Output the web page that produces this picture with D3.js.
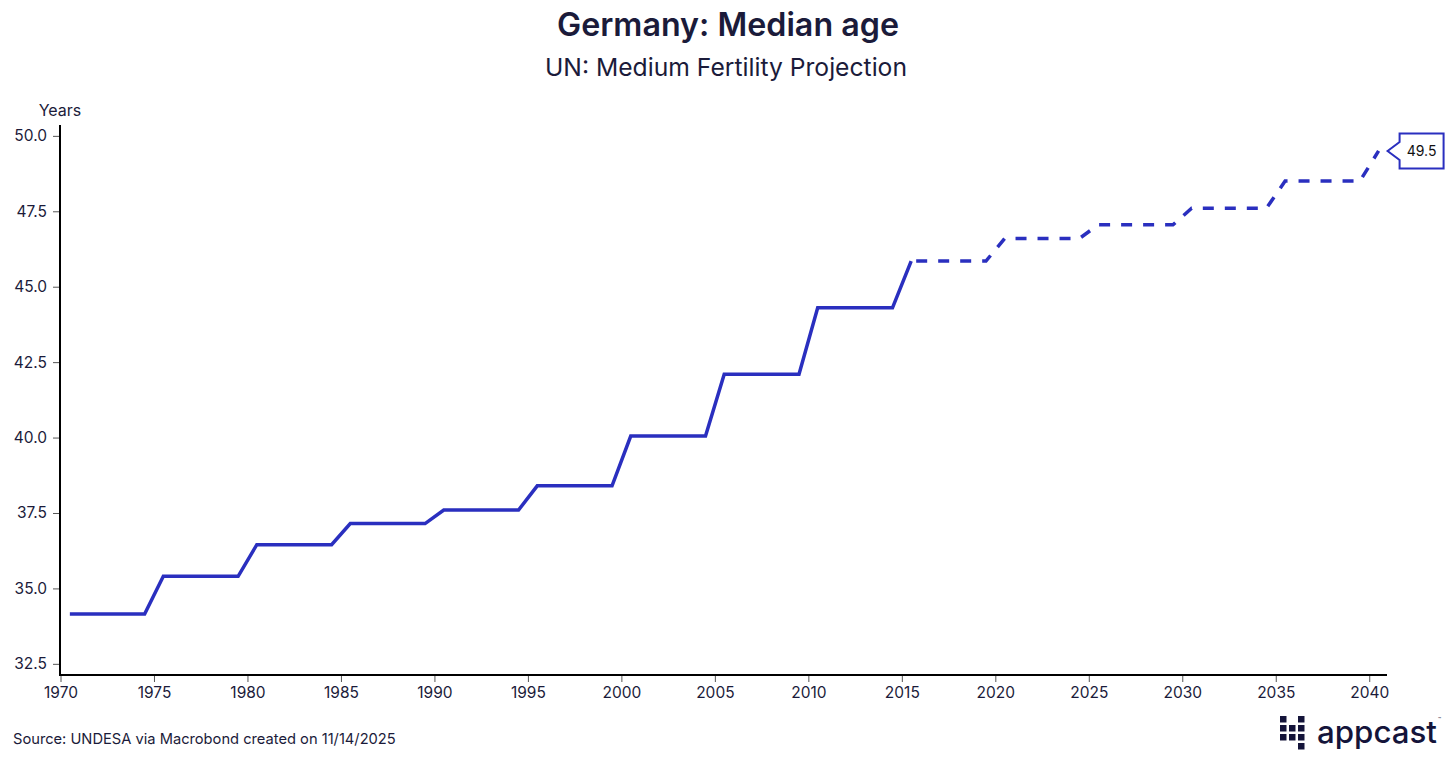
<!DOCTYPE html>
<html>
<head>
<meta charset="utf-8">
<script src="https://cdn.jsdelivr.net/npm/d3@7"></script>
<style>
  html, body { margin: 0; padding: 0; background: #fff; }
  svg { display: block; font-family: Inter, "Noto Sans", sans-serif; }
</style>
</head>
<body>
<svg id="chart" width="1456" height="761"></svg>
<script>
// ---- Data (UN WPP, median age, Germany; medium fertility projection) ----
const years = [
  1970,1971,1972,1973,1974,1975,1976,1977,1978,1979,
  1980,1981,1982,1983,1984,1985,1986,1987,1988,1989,
  1990,1991,1992,1993,1994,1995,1996,1997,1998,1999,
  2000,2001,2002,2003,2004,2005,2006,2007,2008,2009,
  2010,2011,2012,2013,2014,2015,2016,2017,2018,2019,
  2020,2021,2022,2023,2024,2025,2026,2027,2028,2029,
  2030,2031,2032,2033,2034,2035,2036,2037,2038,2039,
  2040
];
const medianAge = [
  34.15,34.15,34.15,34.15,34.15,35.4,35.4,35.4,35.4,35.4,
  36.45,36.45,36.45,36.45,36.45,37.15,37.15,37.15,37.15,37.15,
  37.6,37.6,37.6,37.6,37.6,38.4,38.4,38.4,38.4,38.4,
  40.05,40.05,40.05,40.05,40.05,42.1,42.1,42.1,42.1,42.1,
  44.3,44.3,44.3,44.3,44.3,45.85,45.85,45.85,45.85,45.85,
  46.6,46.6,46.6,46.6,46.6,47.05,47.05,47.05,47.05,47.05,
  47.6,47.6,47.6,47.6,47.6,48.5,48.5,48.5,48.5,48.5,
  49.5
];
const projectionStart = 2015;
const yTicks = [32.5, 35.0, 37.5, 40.0, 42.5, 45.0, 47.5, 50.0];
const xTicks = [1970,1975,1980,1985,1990,1995,2000,2005,2010,2015,2020,2025,2030,2035,2040];
const lastLabel = "49.5";

const title = "Germany: Median age";
const subtitle = "UN: Medium Fertility Projection";
const yLabel = "Years";
const source = "Source: UNDESA via Macrobond created on 11/14/2025";

// ---- Layout ----
const svg = d3.select("#chart");
const ink = "#1b1b3a";
const lineColor = "#2a2fbf";

const x = d3.scaleLinear().domain([1970, 2040.95]).range([60.5, 1387]);
const y = d3.scaleLinear().domain([32.13, 50.36]).range([675, 125]);

const data = years.map((yr, i) => ({ t: yr + 0.5, v: medianAge[i], yr }));
const hist = data.filter(d => d.yr <= projectionStart);
const proj = data.filter(d => d.yr >= projectionStart);

function fitText(sel, target) {
  const node = sel.node();
  const fs = parseFloat(sel.attr("font-size"));
  const w = node.getComputedTextLength();
  if (w > 0) sel.attr("font-size", (fs * target / w).toFixed(2));
  return sel.node().getComputedTextLength();
}

// Title & subtitle
const t1 = svg.append("text").attr("x", 728).attr("y", 36).attr("text-anchor", "middle")
  .attr("font-size", 27).attr("font-weight", 600).attr("fill", ink).text(title);
fitText(t1, 342);
const t2 = svg.append("text").attr("x", 726).attr("y", 76).attr("text-anchor", "middle")
  .attr("font-size", 23).attr("font-weight", 400).attr("fill", ink).text(subtitle);
fitText(t2, 362);

// Y axis
const yAxis = d3.axisLeft(y).tickValues(yTicks).tickFormat(d3.format(".1f")).tickSize(7).tickPadding(6);
const gy = svg.append("g").attr("transform", "translate(60,0)").call(yAxis);
gy.select(".domain").remove();
gy.selectAll(".tick line").attr("stroke", "#555").attr("stroke-width", 1);
gy.selectAll(".tick text").attr("font-size", 15.5).attr("fill", ink).attr("font-family", "Inter, sans-serif");
svg.append("line").attr("x1", 60).attr("x2", 60).attr("y1", 125).attr("y2", 676)
  .attr("stroke", "#000").attr("stroke-width", 2);

// X axis
const xAxis = d3.axisBottom(x).tickValues(xTicks).tickFormat(d3.format("d")).tickSize(7).tickPadding(5);
const gx = svg.append("g").attr("transform", "translate(0,675)").call(xAxis);
gx.select(".domain").remove();
gx.selectAll(".tick line").attr("stroke", "#555").attr("stroke-width", 1);
gx.selectAll(".tick text").attr("font-size", 15.5).attr("fill", ink).attr("font-family", "Inter, sans-serif");
svg.append("line").attr("x1", 59).attr("x2", 1387).attr("y1", 675).attr("y2", 675)
  .attr("stroke", "#000").attr("stroke-width", 2);

// Y label
svg.append("text").attr("x", 60).attr("y", 116).attr("text-anchor", "middle")
  .attr("font-size", 16).attr("fill", ink).text(yLabel);

// Lines
const line = d3.line().x(d => x(d.t)).y(d => y(d.v));
svg.append("path").datum(hist).attr("d", line).attr("fill", "none")
  .attr("stroke", lineColor).attr("stroke-width", 3.5).attr("stroke-linejoin", "miter");
svg.append("path").datum(proj).attr("d", line).attr("fill", "none")
  .attr("stroke", lineColor).attr("stroke-width", 3.5).attr("stroke-dasharray", "11,11")
  .attr("stroke-dashoffset", -5);

// End label callout
const last = data[data.length - 1];
const lx = x(last.t) + 9, ly = y(last.v);
const bx = lx + 12, bw = 44, bh = 35;
const callout = d3.path();
callout.moveTo(lx, ly);
callout.lineTo(bx, ly - 9);
callout.lineTo(bx, ly - bh / 2);
callout.lineTo(bx + bw, ly - bh / 2);
callout.lineTo(bx + bw, ly + bh / 2);
callout.lineTo(bx, ly + bh / 2);
callout.lineTo(bx, ly + 9);
callout.closePath();
svg.append("path").attr("d", callout.toString()).attr("fill", "#fff")
  .attr("stroke", lineColor).attr("stroke-width", 2);
svg.append("text").attr("x", bx + bw / 2).attr("y", ly + 5).attr("text-anchor", "middle")
  .attr("font-size", 14).attr("fill", "#111").text(lastLabel);

// Source
const src = svg.append("text").attr("x", 13).attr("y", 744).attr("font-size", 14)
  .attr("fill", ink).text(source);
fitText(src, 383);

// appcast logo
const logo = svg.append("g").attr("transform", "translate(1280,716)");
const sq = 6.5, gap = 2.5;
const cells = [[0,0],[0,1],[0,2],[1,1],[1,2],[2,0],[2,1],[2,2],[2,3]];
logo.selectAll("rect").data(cells).join("rect")
  .attr("x", d => d[0] * (sq + gap)).attr("y", d => d[1] * (sq + gap))
  .attr("width", sq).attr("height", sq).attr("fill", "#14143a");
const brand = logo.append("text").attr("x", 37).attr("y", 27).attr("font-size", 34)
  .attr("font-weight", 500).attr("fill", "#14143a").text("appcast");
const bwid = fitText(brand, 120);
logo.append("text").attr("x", 37 + bwid + 1).attr("y", 5).attr("font-size", 5)
  .attr("fill", "#14143a").text("™");
</script>
</body>
</html>
